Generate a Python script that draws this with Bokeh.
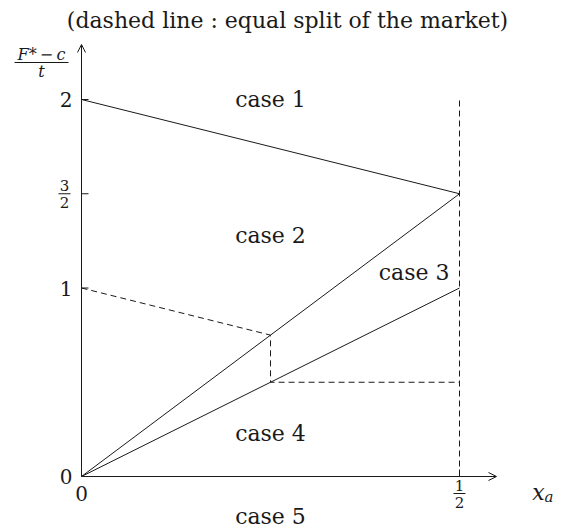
from bokeh.plotting import figure
from bokeh.models import Arrow, OpenHead, Range1d
from bokeh.core.properties import value
from bokeh.embed import file_html
from bokeh.resources import INLINE

# Region boundaries in the (x_a, (F*-c)/t) plane
upper_x = [0.0, 0.5]
upper_y = [2.0, 1.5]
steep_x = [0.0, 0.5]
steep_y = [0.0, 1.5]
flat_x = [0.0, 0.5]
flat_y = [0.0, 1.0]

# Equal split of the market (dashed)
split_x = [0.0, 0.25, 0.25, 0.5]
split_y = [1.0, 0.75, 0.5, 0.5]
half_x = [0.5, 0.5]
half_y = [0.0, 2.0]

# Region names
case_labels = ["case 1", "case 2", "case 3", "case 4", "case 5"]
case_x = [0.25, 0.25, 0.44, 0.25, 0.25]
case_y = [2.0, 1.28, 1.08, 0.23, -0.21]

# Tick values and their labels (numerator / denominator, "" when not a fraction)
ytick_vals = [0.0, 1.0, 1.5, 2.0]
ytick_num = ["0", "1", "3", "2"]
ytick_den = ["", "", "2", ""]
xtick_vals = [0.0, 0.5]
xtick_num = ["0", "1"]
xtick_den = ["", "2"]

title_text = "(dashed line : equal split of the market)"

W, H = 567, 532
# pixel scale of the frame
SX, SY = 756.0, 188.5
X0, Y0 = 81.0, 476.0

def dx(px):
    return px / SX

def dy(px):
    return px / SY

INK = "#1a1a1a"
FONT = value("DejaVu Serif")
BIG = value("22px")
DIGIT = value("20px")
FRAC = value("15px")

p = figure(width=W, height=H, output_backend="svg", toolbar_location=None,
           x_range=Range1d(-X0 / SX, (W - X0) / SX),
           y_range=Range1d(-(H - Y0) / SY, Y0 / SY),
           min_border=0)
p.axis.visible = False
p.grid.visible = False
p.outline_line_color = None
p.background_fill_color = "white"
p.border_fill_color = "white"

# axes with open arrow heads
p.add_layout(Arrow(end=OpenHead(size=8, line_width=1, line_color=INK),
                   x_start=0, y_start=0, x_end=0, y_end=dy(Y0 - 44),
                   line_width=1, line_color=INK))
p.add_layout(Arrow(end=OpenHead(size=8, line_width=1, line_color=INK),
                   x_start=0, y_start=0, x_end=dx(496 - X0), y_end=0,
                   line_width=1, line_color=INK))

# tick marks
yt = [v for v in ytick_vals if v > 0]
p.segment(x0=[0] * len(yt), y0=yt, x1=[dx(7)] * len(yt), y1=yt,
          line_color=INK, line_width=1)
xt = [v for v in xtick_vals if v > 0]
p.segment(x0=xt, y0=[0] * len(xt), x1=xt, y1=[dy(7)] * len(xt),
          line_color=INK, line_width=1)

# solid boundaries
for xs, ys in [(upper_x, upper_y), (steep_x, steep_y), (flat_x, flat_y)]:
    p.line(xs, ys, line_color=INK, line_width=1)

# dashed equal-split boundaries
p.line(split_x, split_y, line_color=INK, line_width=1, line_dash="6 4")
p.line(half_x, half_y, line_color=INK, line_width=1, line_dash="6 4")

# case labels
p.text(x=case_x, y=case_y, text=case_labels, text_align="center",
       text_baseline="middle", text_font=FONT,
       text_font_size=BIG, text_color=INK)


def fraction(cx, cy, num, den, half_width, italic=False, size=FRAC):
    """Stacked fraction centred on (cx, cy); each part is placed by its
    middle so that the glyph height stays independent of the baseline."""
    style = "italic" if italic else "normal"
    p.text(x=[cx], y=[cy + dy(8)], text=[num], text_align="center",
           text_baseline="middle", text_font=FONT, text_font_style=style,
           text_font_size=size, text_color=INK)
    p.text(x=[cx], y=[cy - dy(9)], text=[den], text_align="center",
           text_baseline="middle", text_font=FONT, text_font_style=style,
           text_font_size=size, text_color=INK)
    p.segment(x0=[cx - dx(half_width)], y0=[cy], x1=[cx + dx(half_width)],
              y1=[cy], line_color=INK, line_width=1)


# y tick labels
for v, num, den in zip(ytick_vals, ytick_num, ytick_den):
    if den:
        fraction(-dx(17), v, num, den, 6)
    else:
        p.text(x=[-dx(9)], y=[v], text=[num], text_align="right",
               text_baseline="middle", text_font=FONT,
               text_font_size=DIGIT, text_color=INK)

# x tick labels
for v, num, den in zip(xtick_vals, xtick_num, xtick_den):
    if den:
        fraction(v, -dy(17), num, den, 6)
    else:
        p.text(x=[v], y=[-dy(17)], text=[num], text_align="center",
               text_baseline="middle", text_font=FONT,
               text_font_size=DIGIT, text_color=INK)

# axis names
fraction(-dx(X0 - 41), dy(Y0 - 62), "F*\u2009\u2212\u2009c", "t", 27,
         italic=True, size=value("16px"))

xa_x, xa_y = dx(538 - X0), -dy(16)
p.text(x=[xa_x], y=[xa_y], text=["x"], text_align="center",
       text_baseline="middle", text_font=FONT, text_font_style="italic",
       text_font_size=BIG, text_color=INK)
p.text(x=[xa_x + dx(6)], y=[xa_y - dy(4)], text=["a"], text_align="left",
       text_baseline="middle", text_font=FONT,
       text_font_style="italic", text_font_size=value("15px"), text_color=INK)

# title
p.text(x=[dx(287 - X0)], y=[dy(Y0 - 20)], text=[title_text],
       text_align="center", text_baseline="middle", text_font=FONT,
       text_font_size=BIG, text_color=INK)

open("out.html", "w").write(file_html(p, INLINE))
